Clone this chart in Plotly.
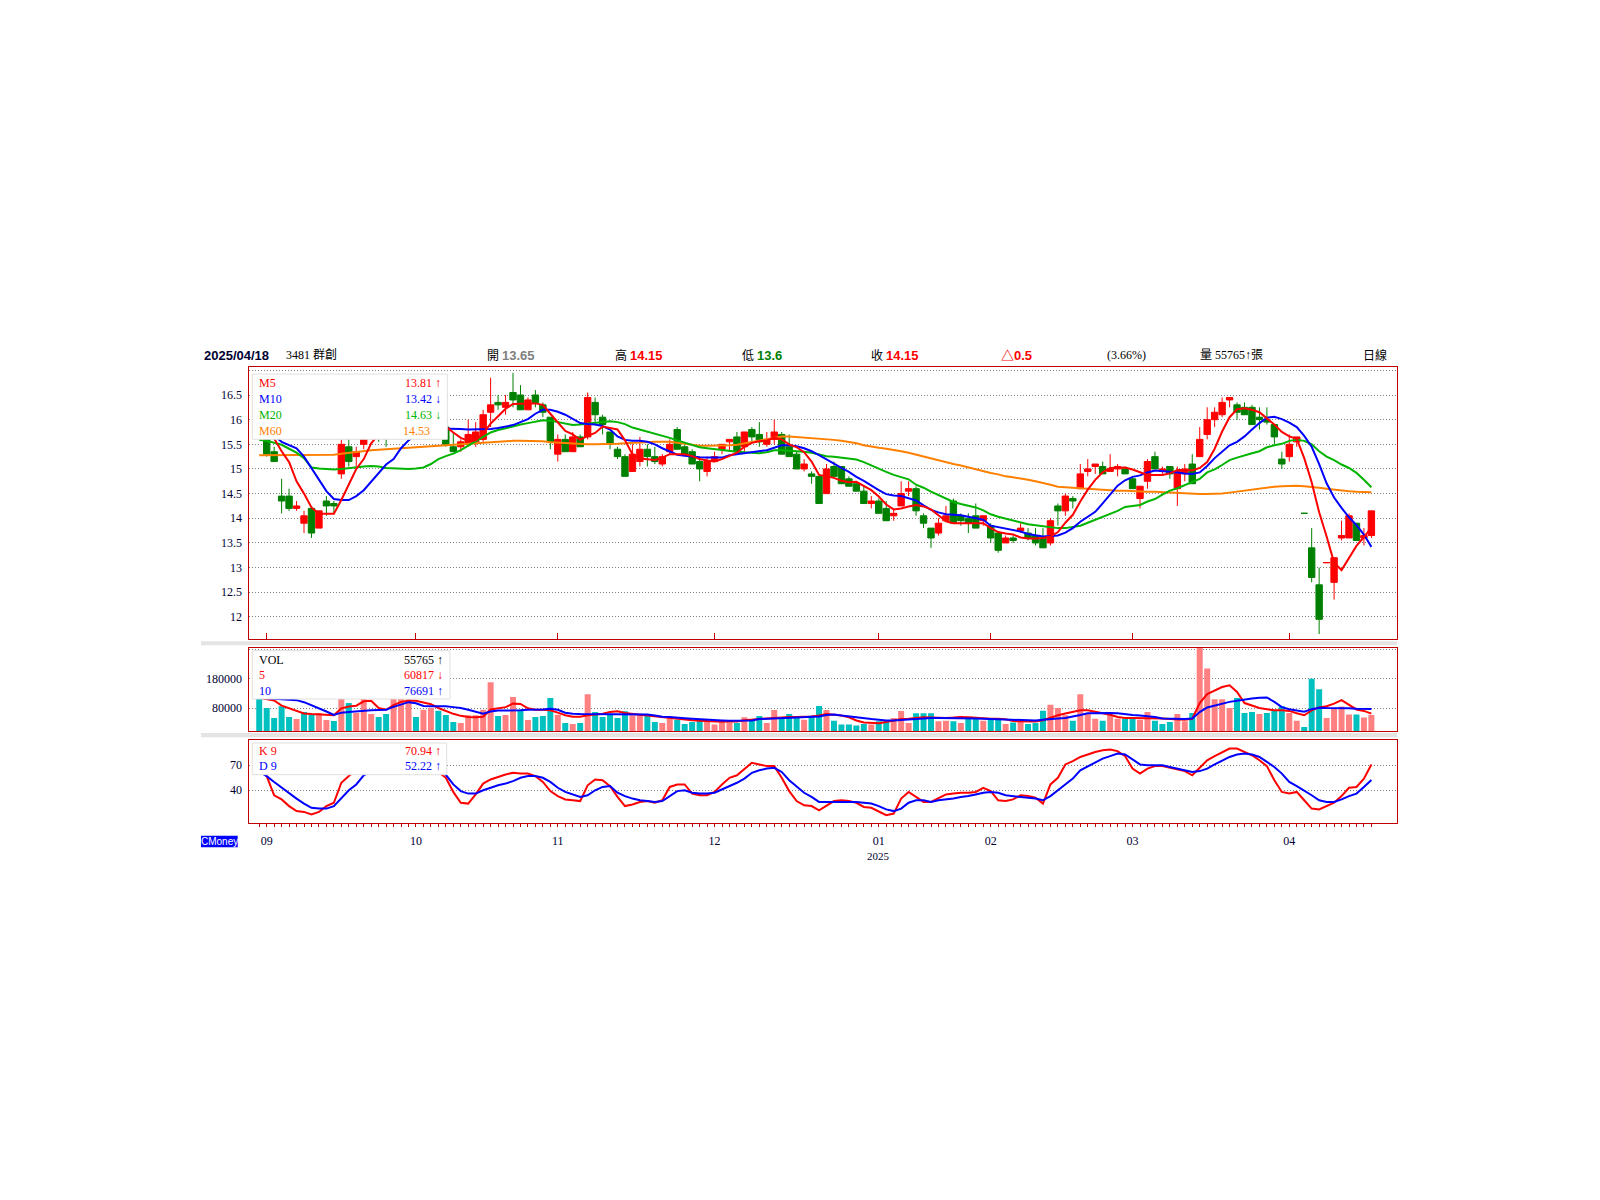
import plotly.graph_objects as go

W, H = 1600, 1200


def px(x):
    return x / W


def py(y):
    return 1 - y / H


# ---- daily data, 2024/08/30 .. 2025/04/18 (3481 群創) ----
open_ = [
    15.75, 15.7, 15.35, 14.45, 14.45, 14.2, 13.9, 14.2, 13.8, 14.35,
    14.3, 14.9, 15.45, 15.25, 15.5, 15.7, 16.0, 15.95, 15.9, 16.05,
    16.1, 16.2, 16.05, 16.1, 16.1, 15.85, 15.45, 15.45, 15.5, 15.55,
    15.6, 16.15, 16.35, 16.25, 16.55, 16.5, 16.2, 16.5, 16.3, 16.05,
    15.3, 15.6, 15.35, 15.65, 15.65, 16.35, 16.05, 15.75, 15.4, 15.25,
    14.95, 15.15, 15.4, 15.25, 15.1, 15.35, 15.8, 15.45, 15.35, 15.15,
    14.95, 15.15, 15.4, 15.55, 15.65, 15.45, 15.8, 15.7, 15.5, 15.6,
    15.7, 15.45, 15.3, 15.0, 14.9, 14.85, 14.5, 15.05, 15.05, 14.8,
    14.7, 14.55, 14.3, 14.35, 14.2, 14.05, 14.25, 14.55, 14.6, 14.05,
    13.8, 13.7, 13.95, 14.35, 14.05, 14.0, 14.05, 13.95, 13.85, 13.7,
    13.5, 13.6, 13.75, 13.7, 13.65, 13.6, 13.5, 14.25, 14.15, 14.4,
    14.6, 14.95, 15.05, 15.05, 14.95, 15.0, 15.0, 14.8, 14.4, 14.75,
    15.25, 14.95, 15.05, 14.6, 14.9, 15.1, 15.25, 15.7, 16.0, 16.1,
    16.4, 16.3, 16.25, 16.25, 16.05, 16.0, 15.9, 15.2, 15.25, 15.55,
    14.1, 13.4, 12.65, 13.1, 12.7, 13.6, 13.6, 13.9, 13.6, 13.65,
]
high = [
    15.85, 15.75, 15.45, 14.8, 14.6, 14.35, 14.15, 14.2, 14.15, 14.45,
    14.35, 15.6, 15.65, 15.45, 15.8, 16.05, 16.1, 16.0, 16.1, 16.2,
    16.3, 16.25, 16.2, 16.2, 16.15, 15.9, 15.75, 15.6, 16.0, 15.95,
    16.2, 16.85, 16.5, 16.5, 16.95, 16.7, 16.45, 16.6, 16.35, 16.05,
    15.7, 15.7, 15.75, 15.7, 16.55, 16.45, 16.1, 15.75, 15.45, 15.3,
    15.5, 15.65, 15.5, 15.45, 15.3, 15.6, 15.85, 15.5, 15.4, 15.25,
    15.25, 15.35, 15.5, 15.6, 15.75, 15.75, 15.85, 15.95, 15.75, 16.0,
    15.75, 15.7, 15.35, 15.2, 14.95, 14.85, 15.1, 15.15, 15.05, 14.85,
    14.75, 14.65, 14.45, 14.4, 14.35, 14.2, 14.75, 14.75, 14.65, 14.1,
    13.8, 14.0, 14.25, 14.4, 14.1, 14.1, 14.3, 14.05, 13.9, 13.7,
    13.65, 13.65, 13.9, 13.8, 13.8, 13.8, 14.0, 14.3, 14.5, 14.45,
    15.1, 15.2, 15.1, 15.15, 15.3, 15.1, 15.05, 14.85, 14.65, 15.2,
    15.35, 15.05, 15.05, 15.05, 15.1, 15.3, 15.85, 16.25, 16.25, 16.45,
    16.45, 16.35, 16.35, 16.3, 16.25, 16.25, 15.9, 15.35, 15.7, 15.65,
    14.1, 13.8, 13.0, 13.1, 13.2, 13.95, 14.1, 13.9, 13.8, 14.15,
]
low = [
    15.65, 15.25, 15.15, 14.1, 14.15, 14.15, 13.7, 13.6, 13.8, 14.05,
    14.1, 14.8, 15.05, 15.05, 15.4, 15.6, 15.55, 15.45, 15.8, 15.95,
    16.0, 16.0, 15.95, 15.95, 15.8, 15.45, 15.35, 15.35, 15.45, 15.45,
    15.55, 15.85, 16.2, 16.1, 16.25, 16.2, 16.2, 16.25, 16.05, 15.4,
    15.15, 15.35, 15.35, 15.45, 15.6, 15.95, 15.7, 15.4, 15.2, 14.85,
    14.95, 15.05, 15.05, 15.1, 15.05, 15.3, 15.4, 15.3, 15.1, 14.75,
    14.85, 15.15, 15.3, 15.35, 15.35, 15.35, 15.55, 15.45, 15.45, 15.5,
    15.3, 15.25, 15.0, 14.95, 14.7, 14.3, 14.5, 14.85, 14.7, 14.65,
    14.55, 14.3, 14.2, 14.1, 13.95, 13.95, 14.25, 14.45, 14.05, 13.8,
    13.4, 13.65, 13.95, 13.9, 13.85, 13.7, 13.8, 13.85, 13.5, 13.3,
    13.5, 13.5, 13.7, 13.55, 13.45, 13.4, 13.45, 13.85, 14.05, 14.2,
    14.6, 14.85, 14.9, 14.9, 14.95, 14.85, 14.9, 14.6, 14.2, 14.6,
    15.0, 14.9, 14.8, 14.25, 14.75, 14.7, 15.25, 15.6, 15.85, 16.05,
    16.25, 16.0, 16.1, 15.9, 15.8, 15.9, 15.5, 15.0, 15.15, 15.45,
    14.1, 12.7, 11.65, 13.1, 12.35, 13.55, 13.6, 13.55, 13.45, 13.6,
]
close = [
    15.7, 15.3, 15.15, 14.35, 14.2, 14.25, 14.05, 13.7, 14.15, 14.25,
    14.25, 15.5, 15.15, 15.35, 15.75, 16.0, 15.95, 15.9, 16.05, 16.1,
    16.2, 16.05, 16.1, 16.15, 15.85, 15.5, 15.35, 15.55, 15.7, 15.75,
    16.1, 16.3, 16.3, 16.35, 16.4, 16.2, 16.4, 16.35, 16.15, 15.55,
    15.6, 15.35, 15.65, 15.45, 16.45, 16.1, 15.9, 15.5, 15.25, 14.85,
    15.3, 15.4, 15.25, 15.15, 15.25, 15.5, 15.4, 15.3, 15.1, 15.0,
    15.15, 15.25, 15.5, 15.6, 15.35, 15.75, 15.65, 15.55, 15.6, 15.75,
    15.3, 15.25, 15.0, 15.1, 14.85, 14.3, 15.0, 14.85, 14.7, 14.65,
    14.55, 14.3, 14.35, 14.1, 13.95, 14.1, 14.5, 14.6, 14.15, 13.9,
    13.6, 13.9, 14.05, 13.9, 13.95, 13.9, 13.8, 14.05, 13.6, 13.35,
    13.6, 13.55, 13.8, 13.6, 13.5, 13.4, 13.95, 14.15, 14.45, 14.35,
    14.9, 15.0, 15.1, 14.9, 15.0, 15.05, 14.9, 14.6, 14.65, 15.15,
    15.0, 15.0, 14.9, 14.95, 15.0, 14.7, 15.6, 16.0, 16.15, 16.35,
    16.45, 16.15, 16.1, 15.9, 16.0, 15.95, 15.65, 15.1, 15.5, 15.65,
    14.1, 12.8, 11.95, 13.1, 13.2, 13.65, 14.05, 13.55, 13.65, 14.15,
]
volume = [
    125000, 79900, 45700, 85600, 49100, 42300, 66200, 56000, 62800, 38900,
    35500, 130000, 96900, 62800, 112000, 59400, 49100, 59400, 160000, 150000,
    110000, 49100, 74200, 79900, 70800, 56000, 32100, 28700, 54800, 54800,
    74200, 168600, 52600, 56000, 117500, 74200, 38900, 49100, 52600, 114000,
    57100, 28700, 25300, 28700, 127600, 66200, 49100, 57100, 45700, 68500,
    54800, 54800, 57100, 32100, 28700, 45700, 40000, 25300, 32100, 40000,
    34400, 23000, 29800, 29800, 28700, 48000, 42300, 52600, 28700, 73000,
    42300, 59400, 48000, 40000, 53700, 86700, 73000, 36600, 23000, 23000,
    19600, 25300, 23000, 34400, 34400, 45700, 69600, 28700, 61700, 61700,
    61700, 34400, 36600, 34400, 28700, 49100, 48000, 36600, 40000, 43500,
    25300, 30000, 32000, 25300, 28700, 70800, 91000, 80000, 54800, 36600,
    127600, 59400, 43500, 36600, 57000, 43500, 43500, 43500, 40000, 66000,
    36600, 25300, 32000, 59400, 34400, 62800, 300000, 216000, 110000, 110000,
    79900, 114000, 62800, 66000, 59400, 62800, 70800, 85600, 62800, 36600,
    14800, 180000, 144600, 45700, 79900, 85000, 58000, 58000, 47000, 55765,
]
ma5 = [
    15.75, 15.70, 15.62, 15.36, 15.14, 14.75, 14.50, 14.22, 14.09, 14.09,
    14.09, 14.37, 14.70, 15.00, 15.20, 15.52, 15.70, 15.80, 15.90, 15.95,
    16.00, 16.05, 16.05, 16.00, 15.93, 15.86, 15.74, 15.63, 15.57, 15.58,
    15.72, 15.92, 16.07, 16.22, 16.32, 16.33, 16.33, 16.33, 16.30, 16.12,
    15.95, 15.77, 15.70, 15.59, 15.67, 15.73, 15.86, 15.83, 15.80, 15.58,
    15.30, 15.21, 15.19, 15.18, 15.23, 15.30, 15.30, 15.30, 15.26, 15.20,
    15.17, 15.15, 15.20, 15.26, 15.33, 15.45, 15.53, 15.56, 15.58, 15.63,
    15.60, 15.50, 15.44, 15.34, 15.15, 14.88, 14.85, 14.82, 14.76, 14.73,
    14.74, 14.66, 14.57, 14.44, 14.28, 14.18, 14.20, 14.24, 14.27, 14.24,
    14.18, 14.06, 13.94, 13.90, 13.90, 13.91, 13.91, 13.90, 13.80, 13.72,
    13.69, 13.67, 13.61, 13.59, 13.59, 13.60, 13.63, 13.72, 13.91, 14.07,
    14.34, 14.58, 14.78, 14.93, 15.02, 15.03, 15.03, 14.99, 14.94, 14.88,
    14.88, 14.88, 14.91, 14.98, 14.98, 14.97, 15.02, 15.14, 15.41, 15.76,
    16.05, 16.21, 16.23, 16.20, 16.15, 16.03, 15.90, 15.75, 15.66, 15.61,
    15.22, 14.73, 14.12, 13.63, 13.10, 12.95, 13.21, 13.44, 13.62, 13.81,
]
ma10 = [
    15.75, 15.72, 15.68, 15.55, 15.48, 15.42, 15.25, 15.01, 14.78, 14.55,
    14.39, 14.37, 14.37, 14.45, 14.57, 14.75, 14.92, 15.09, 15.20, 15.42,
    15.58, 15.70, 15.76, 15.80, 15.82, 15.82, 15.82, 15.81, 15.80, 15.80,
    15.80, 15.81, 15.83, 15.86, 15.89, 15.95, 16.01, 16.12, 16.20, 16.20,
    16.16, 16.10, 16.02, 15.93, 15.91, 15.90, 15.87, 15.80, 15.66, 15.59,
    15.57, 15.57, 15.55, 15.50, 15.42, 15.35, 15.29, 15.27, 15.25, 15.24,
    15.23, 15.23, 15.23, 15.28, 15.30, 15.31, 15.33, 15.35, 15.38, 15.43,
    15.48, 15.48, 15.46, 15.42, 15.36, 15.28, 15.19, 15.11, 15.02, 14.94,
    14.84, 14.76, 14.66, 14.57, 14.49, 14.46, 14.45, 14.41, 14.36, 14.26,
    14.17, 14.12, 14.08, 14.07, 14.06, 14.03, 14.00, 13.97, 13.85, 13.82,
    13.80, 13.77, 13.73, 13.68, 13.65, 13.63, 13.64, 13.65, 13.71, 13.80,
    13.93, 14.03, 14.13, 14.30, 14.48, 14.66, 14.77, 14.84, 14.87, 14.93,
    14.97, 14.96, 14.95, 14.93, 14.91, 14.90, 14.93, 15.06, 15.22, 15.36,
    15.48, 15.55, 15.66, 15.80, 15.93, 16.04, 16.06, 16.01, 15.94, 15.85,
    15.67, 15.45, 15.10, 14.71, 14.42, 14.21, 14.02, 13.86, 13.67, 13.42,
]
ma20 = [
    15.59, 15.57, 15.53, 15.49, 15.41, 15.33, 15.22, 15.03, 15.01, 15.00,
    14.99, 15.00, 15.02, 15.03, 15.05, 15.06, 15.05, 15.02, 15.01, 15.00,
    15.00, 15.01, 15.03, 15.10, 15.20, 15.26, 15.31, 15.38, 15.47, 15.57,
    15.66, 15.74, 15.79, 15.83, 15.87, 15.90, 15.93, 15.96, 15.99, 15.98,
    15.95, 15.92, 15.89, 15.90, 15.92, 15.94, 15.96, 15.97, 15.95, 15.91,
    15.84, 15.80, 15.76, 15.71, 15.67, 15.63, 15.58, 15.53, 15.48, 15.44,
    15.42, 15.40, 15.38, 15.37, 15.35, 15.34, 15.33, 15.32, 15.34, 15.38,
    15.38, 15.37, 15.37, 15.35, 15.33, 15.29, 15.26, 15.25, 15.23, 15.21,
    15.19, 15.14, 15.07, 15.01, 14.94, 14.88, 14.83, 14.79, 14.68, 14.62,
    14.54, 14.47, 14.41, 14.33, 14.29, 14.26, 14.22, 14.16, 14.08, 14.03,
    13.99, 13.95, 13.91, 13.88, 13.86, 13.84, 13.81, 13.80, 13.80, 13.82,
    13.85, 13.91, 13.97, 14.03, 14.09, 14.15, 14.23, 14.25, 14.27, 14.34,
    14.39, 14.48, 14.56, 14.61, 14.67, 14.73, 14.80, 14.93, 14.99, 15.08,
    15.18, 15.23, 15.28, 15.32, 15.36, 15.44, 15.48, 15.51, 15.57, 15.59,
    15.57, 15.50, 15.36, 15.25, 15.18, 15.09, 15.02, 14.92, 14.78, 14.63,
]
ma60 = [
    15.28, 15.28, 15.28, 15.28, 15.28, 15.28, 15.28, 15.28, 15.28, 15.28,
    15.29, 15.31, 15.33, 15.35, 15.37, 15.38, 15.39, 15.40, 15.41, 15.43,
    15.44, 15.45, 15.46, 15.47, 15.48, 15.49, 15.50, 15.51, 15.52, 15.53,
    15.54, 15.55, 15.56, 15.57, 15.57, 15.57, 15.57, 15.57, 15.56, 15.54,
    15.53, 15.52, 15.51, 15.51, 15.50, 15.50, 15.50, 15.50, 15.51, 15.52,
    15.53, 15.54, 15.54, 15.55, 15.55, 15.55, 15.53, 15.51, 15.49, 15.47,
    15.47, 15.47, 15.47, 15.48, 15.49, 15.52, 15.55, 15.58, 15.61, 15.64,
    15.66, 15.66, 15.65, 15.64, 15.62, 15.61, 15.60, 15.59, 15.57, 15.55,
    15.52, 15.48, 15.45, 15.43, 15.41, 15.39, 15.36, 15.33, 15.29, 15.25,
    15.21, 15.17, 15.13, 15.10, 15.07, 15.03, 15.00, 14.96, 14.92, 14.89,
    14.85, 14.83, 14.81, 14.78, 14.75, 14.72, 14.68, 14.64, 14.63, 14.62,
    14.60, 14.60, 14.59, 14.58, 14.57, 14.56, 14.56, 14.55, 14.54, 14.54,
    14.54, 14.53, 14.52, 14.51, 14.50, 14.49, 14.49, 14.49, 14.49, 14.50,
    14.52, 14.54, 14.57, 14.59, 14.61, 14.63, 14.64, 14.65, 14.66, 14.66,
    14.65, 14.64, 14.62, 14.60, 14.58, 14.56, 14.55, 14.54, 14.53, 14.53,
]
vol_ma5 = [
    115000, 110000, 106000, 88000, 79000, 72000, 61000, 59000, 58000, 55000,
    55000, 79000, 85000, 88000, 103000, 105000, 80000, 74000, 90000, 101000,
    105000, 105000, 99000, 93000, 80000, 70000, 60000, 53000, 49000, 48000,
    50000, 75000, 79000, 83000, 95000, 94000, 79000, 74000, 74000, 72000,
    64000, 55000, 50000, 50000, 55000, 57000, 60000, 66000, 69000, 63000,
    59000, 57000, 54000, 51000, 48000, 45000, 42000, 40000, 38000, 36000,
    35000, 32000, 33000, 34000, 34000, 38000, 41000, 42000, 44000, 46000,
    48000, 49000, 49000, 49000, 51000, 54000, 59000, 57000, 54000, 48000,
    37000, 30000, 28000, 28000, 32000, 37000, 42000, 43000, 45000, 48000,
    47000, 46000, 46000, 47000, 49000, 48000, 46000, 44000, 43000, 43000,
    41000, 35000, 35000, 34000, 34000, 38000, 47000, 55000, 61000, 66000,
    72000, 72000, 67000, 60000, 57000, 49000, 46000, 46000, 46000, 46000,
    45000, 44000, 42000, 40000, 40000, 43000, 97000, 128000, 140000, 152000,
    158000, 135000, 97000, 88000, 80000, 76000, 72000, 72000, 70000, 62000,
    55000, 72000, 82000, 86000, 95000, 107000, 91000, 75000, 70000, 60817,
]
vol_ma10 = [
    115000, 114000, 112000, 110000, 108000, 107000, 100000, 90000, 80000, 68000,
    56000, 64000, 66000, 68000, 72000, 72000, 73000, 74000, 84000, 92000,
    100000, 96000, 87000, 86000, 86000, 86000, 83000, 80000, 74000, 66000,
    60000, 68000, 71000, 71000, 71000, 72000, 74000, 74000, 75000, 77000,
    74000, 64000, 60000, 59000, 59000, 59000, 59000, 59000, 59000, 59000,
    59000, 60000, 58000, 54000, 50000, 49000, 46000, 45000, 43000, 41000,
    40000, 38000, 37000, 36000, 36000, 36000, 37000, 42000, 43000, 43000,
    44000, 45000, 47000, 49000, 50000, 51000, 56000, 58000, 54000, 51000,
    46000, 43000, 42000, 40000, 37000, 37000, 39000, 41000, 43000, 45000,
    46000, 46000, 46000, 46000, 45000, 44000, 44000, 43000, 42000, 42000,
    40000, 39000, 38000, 37000, 37000, 40000, 43000, 44000, 46000, 50000,
    56000, 62000, 63000, 63000, 63000, 62000, 58000, 56000, 54000, 52000,
    49000, 44000, 43000, 42000, 42000, 44000, 66000, 82000, 89000, 96000,
    101000, 105000, 110000, 113000, 115000, 116000, 101000, 83000, 76000, 71000,
    67000, 76000, 81000, 80000, 80000, 80000, 79000, 77000, 77000, 76691,
]
k9 = [
    65, 57, 34, 29, 21, 15, 14, 11, 14, 21,
    25, 49, 57, 65, 72, 76, 78, 80, 82, 84,
    85, 83, 80, 72, 62, 55, 38, 25, 24, 35,
    48, 53, 56, 59, 61, 60, 60, 57, 50, 39,
    33, 29, 28, 27, 46, 53, 52, 45, 32, 21,
    23, 26, 27, 25, 28, 44, 47, 47, 36, 34,
    34, 38, 47, 55, 58, 66, 73, 71, 69, 69,
    55, 39, 27, 22, 21, 16, 22, 27, 28, 27,
    25, 20, 19, 14, 10, 12, 30, 38, 32, 26,
    26, 31, 35, 36, 37, 37, 38, 43, 39, 28,
    27, 29, 34, 33, 31, 24, 47, 55, 71, 75,
    80, 83, 86, 88, 89, 87, 81, 66, 60, 66,
    69, 69, 67, 65, 63, 58, 67, 76, 81, 86,
    90, 90, 86, 82, 76, 69, 52, 38, 36, 38,
    28, 18, 17, 21, 25, 33, 43, 44, 54, 70.94,
]
d9 = [
    62, 57, 50, 43, 36, 30, 24, 19, 18, 18,
    21, 31, 40, 47, 58, 63, 67, 71, 74, 77,
    79, 80, 80, 77, 70, 59, 47, 39, 36, 36,
    40, 43, 46, 48, 51, 55, 57, 57, 55, 50,
    43, 38, 35, 32, 34, 40, 44, 45, 37, 33,
    30, 28, 27, 26, 27, 33, 39, 40, 37, 36,
    36, 37, 41, 45, 49, 54, 61, 64, 66, 67,
    62, 52, 44, 37, 32, 26, 26, 26, 26, 26,
    26, 25, 24, 21, 17, 15, 18, 25, 28, 28,
    26, 28, 29, 30, 32, 33, 35, 37, 38, 37,
    34, 33, 32, 31, 30, 28, 33, 40, 47, 54,
    64, 69, 74, 78, 81, 84, 83, 77, 71, 70,
    70, 70, 68, 66, 64, 62, 63, 66, 71, 76,
    80, 83, 84, 83, 80, 74, 68, 60, 50, 45,
    40, 34, 28, 26, 26, 29, 33, 36, 44, 52.22,
]

month_pos = [1, 21, 40, 61, 83, 98, 117, 138]
month_text = ["09", "10", "11", "12", "01", "02", "03", "04"]
price_ticks = [12, 12.5, 13, 13.5, 14, 14.5, 15, 15.5, 16, 16.5, 17]
price_text = ["12", "12.5", "13", "13.5", "14", "14.5", "15", "15.5", "16", "16.5", ""]

days = list(range(len(close)))

RED = "#FF0000"
GREEN = "#008000"
BLUE = "#0000FF"
LIME = "#00B400"
ORANGE = "#FF8000"
FRAME = "#C00000"
INK = "#000033"
SERIF = "Liberation Serif, Noto Sans CJK TC, serif"
SANS = "Liberation Sans, Noto Sans CJK TC, sans-serif"

# volume bars coloured by close vs previous close
vol_colors = ["#FF8080" if i > 0 and close[i] > close[i - 1] else "#00C0C0" for i in days]

fig = go.Figure()

fig.add_trace(go.Candlestick(
    x=days, open=open_, high=high, low=low, close=close,
    increasing=dict(line=dict(color=RED, width=1), fillcolor=RED),
    decreasing=dict(line=dict(color=GREEN, width=1), fillcolor=GREEN),
    whiskerwidth=0, xaxis="x", yaxis="y", hoverinfo="skip",
))
for vals, col in ((ma60, ORANGE), (ma20, LIME), (ma10, BLUE), (ma5, RED)):
    fig.add_trace(go.Scatter(x=days, y=vals, mode="lines", line=dict(color=col, width=2),
                             xaxis="x", yaxis="y", hoverinfo="skip"))

fig.add_trace(go.Bar(x=days, y=volume, marker=dict(color=vol_colors, line=dict(width=0)),
                     xaxis="x2", yaxis="y2", hoverinfo="skip"))
fig.add_trace(go.Scatter(x=days, y=vol_ma5, mode="lines", line=dict(color=RED, width=2),
                         xaxis="x2", yaxis="y2", hoverinfo="skip"))
fig.add_trace(go.Scatter(x=days, y=vol_ma10, mode="lines", line=dict(color=BLUE, width=2),
                         xaxis="x2", yaxis="y2", hoverinfo="skip"))

fig.add_trace(go.Scatter(x=days, y=k9, mode="lines", line=dict(color=RED, width=2),
                         xaxis="x3", yaxis="y3", hoverinfo="skip"))
fig.add_trace(go.Scatter(x=days, y=d9, mode="lines", line=dict(color=BLUE, width=2),
                         xaxis="x3", yaxis="y3", hoverinfo="skip"))

frame = dict(showline=True, linecolor=FRAME, linewidth=1, mirror=True, zeroline=False)
grid = dict(showgrid=True, gridcolor="#808080", gridwidth=1, griddash="1px,2px")
ytick = dict(tickfont=dict(family=SERIF, size=12, color=INK), ticks="", ticklabelstandoff=4)
x_dom = [px(249.3), px(1397)]
x_rng = [-1.33, 152.43]

fig.update_layout(
    width=W, height=H, margin=dict(l=0, r=0, t=0, b=0),
    paper_bgcolor="white", plot_bgcolor="white", showlegend=False,
    bargap=0.2, boxgap=0.05, boxgroupgap=0.1, hovermode=False,
    xaxis=dict(domain=x_dom, range=x_rng, anchor="y", tickmode="array", tickvals=month_pos,
               ticks="inside", ticklen=6, tickcolor=FRAME, showticklabels=False, showgrid=False,
               rangeslider=dict(visible=False), **frame),
    yaxis=dict(domain=[py(639.3), py(367.3)], range=[11.545, 17.062], anchor="x",
               tickmode="array", tickvals=price_ticks, ticktext=price_text, **grid, **ytick, **frame),
    xaxis2=dict(domain=x_dom, matches="x", anchor="y2", showticklabels=False, ticks="",
                showgrid=False, **frame),
    yaxis2=dict(domain=[py(731.3), py(648)], range=[0, 286000], anchor="x2", tickmode="array",
                tickvals=[80000, 180000, 280000], ticktext=["80000", "180000", ""],
                **grid, **ytick, **frame),
    xaxis3=dict(domain=x_dom, matches="x", anchor="y3", tickmode="array", tickvals=month_pos,
                ticktext=month_text, ticks="outside", ticklen=3, tickcolor=FRAME, showgrid=False,
                tickfont=dict(family=SERIF, size=12, color=INK), ticklabelstandoff=4,
                minor=dict(tickmode="array", tickvals=days, ticks="outside", ticklen=3,
                           tickcolor=FRAME, showgrid=False),
                **frame),
    yaxis3=dict(domain=[py(823), py(739.7)], range=[0.7, 100.7], anchor="x3", tickmode="array",
                tickvals=[40, 70, 100], ticktext=["40", "70", ""], **grid, **ytick, **frame),
)

shapes = []
# grey separators between the panels
for y0, y1 in ((641.3, 645.3), (733.0, 737.3)):
    shapes.append(dict(type="rect", xref="paper", yref="paper", x0=px(201), x1=px(1397),
                       y0=py(y1), y1=py(y0), fillcolor="#E4E4E4", line=dict(width=0), layer="below"))
# legend boxes sitting on top of the plots
for x0, x1, y0, y1 in ((252.3, 447.3, 374, 439.3), (252.3, 450, 650.7, 699), (252.3, 446.7, 743, 774.7)):
    shapes.append(dict(type="rect", xref="paper", yref="paper", x0=px(x0), x1=px(x1),
                       y0=py(y1), y1=py(y0), fillcolor="white",
                       line=dict(color="#E0E0E0", width=1), layer="above"))
# CMoney badge
shapes.append(dict(type="rect", xref="paper", yref="paper", x0=px(201), x1=px(237.7),
                   y0=py(847.3), y1=py(835.7), fillcolor="#0000FF", line=dict(width=0)))
fig.update_layout(shapes=shapes)


def label(x, y, text, color="black", size=12, family=SERIF, anchor="left"):
    fig.add_annotation(x=px(x), y=py(y), xref="paper", yref="paper", text=text, showarrow=False,
                       xanchor=anchor, yanchor="middle", font=dict(family=family, size=size, color=color))


def value(s, color):
    return "<span style='font-family:Liberation Sans;font-size:13px;color:%s'><b>%s</b></span>" % (color, s)


# header line
HY = 355
label(201.5, HY, "<b>2025/04/18</b>", INK, 13, SANS)
label(284, HY, "3481 群創")
label(484.7, HY, "開 " + value("13.65", "#808080"))
label(613.3, HY, "高 " + value("14.15", RED))
label(740, HY, "低 " + value("13.6", GREEN))
label(868.8, HY, "收 " + value("14.15", RED))
label(999, HY, "<b>△0.5</b>", RED, 13, SANS)
label(1104.5, HY, "(3.66%)")
label(1198, HY, "量 55765↑張")
label(1361, HY, "日線")

# price legend
for y, name, val, col in ((383.3, "M5", "13.81 ↑", RED), (399.3, "M10", "13.42 ↓", BLUE),
                          (415, "M20", "14.63 ↓", LIME), (430.7, "M60", "14.53", ORANGE)):
    label(256.7, y, name, col)
    label(443 if "↑" in val or "↓" in val else 432.3, y, val, col, anchor="right")

# volume legend
for y, name, val, col in ((659.7, "VOL", "55765 ↑", "black"), (675.3, "5", "60817 ↓", RED),
                          (690.7, "10", "76691 ↑", BLUE)):
    label(256.7, y, name, col)
    label(445, y, val, col, anchor="right")

# KD legend
for y, name, val, col in ((751.3, "K 9", "70.94 ↑", RED), (766.3, "D 9", "52.22 ↑", BLUE)):
    label(256.7, y, name, col)
    label(443, y, val, col, anchor="right")

# year under the January tick
label(878.3, 856, "2025", INK, 11, SERIF, anchor="center")
label(219.3, 841.5, "CMoney", "white", 10, SANS, anchor="center")

fig.write_html("out.html", config={"displayModeBar": False},
               post_script="document.body.style.margin='0';")
